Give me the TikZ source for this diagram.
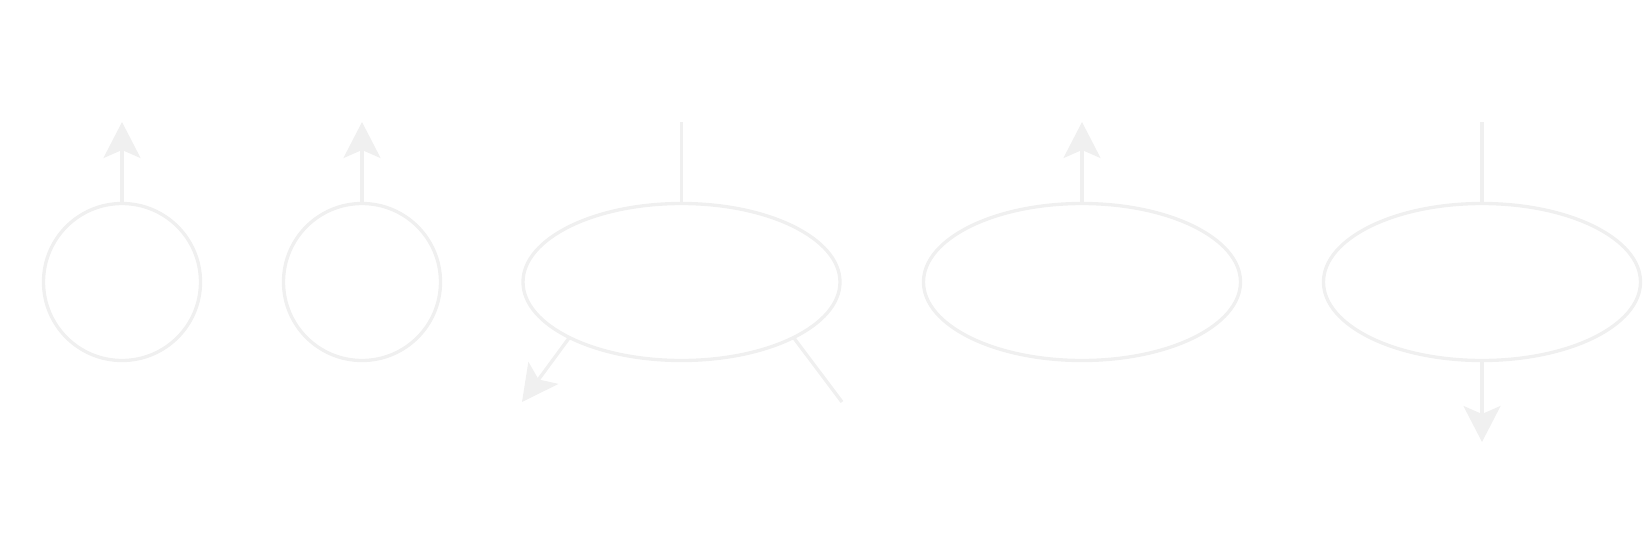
\documentclass[tikz,border=0pt]{standalone}
\usetikzlibrary{shapes.geometric, arrows.meta, calc}
\definecolor{faintgray}{RGB}{240,240,240}
\begin{document}
\begin{tikzpicture}[
  color = faintgray, line width = 0.95pt,
  ring/.style = {draw, circle, minimum size = 1.57cm, inner sep = 0pt},
  oval/.style = {draw, ellipse, minimum width = 3.17cm, minimum height = 1.57cm,
    inner sep = 0pt},
  spin/.style = {-{Stealth[length = 3.6mm, width = 3.7mm, inset = 0.8mm]}}]
\useasboundingbox (0,0) rectangle (16.44,-5.60);
%
\draw(1.22,-2.82) node[ring](ringA){};
\coordinate (ringAtop) at (1.22,-1.22);
\draw[spin] (ringA.north) -- (ringAtop);
%
\draw(3.62,-2.82) node[ring](ringB){};
\coordinate (ringBtop) at (3.62,-1.22);
\draw[spin] (ringB.north) -- (ringBtop);
%
\draw(6.815,-2.82) node[oval](ovalA){};
\coordinate (ovalAtop) at (6.815,-1.22);
\coordinate (ovalAleft) at (5.22,-4.02);
\coordinate (ovalAright) at (8.42,-4.02);
\draw (ovalA.north) -- (ovalAtop);
\draw[spin] ($(ovalA.center) + (225:1.585 and 0.785)$) -- (ovalAleft);
\draw ($(ovalA.center) + (-45:1.585 and 0.785)$) -- (ovalAright);
%
\draw(10.82,-2.82) node[oval](ovalB){};
\coordinate (ovalBtop) at (10.82,-1.22);
\draw[spin] (ovalB.north) -- (ovalBtop);
%
\draw(14.82,-2.82) node[oval](ovalC){};
\coordinate (ovalCtop) at (14.82,-1.22);
\coordinate (ovalCbottom) at (14.82,-4.42);
\draw (ovalC.north) -- (ovalCtop);
\draw[spin] (ovalC.south) -- (ovalCbottom);
\end{tikzpicture}
\end{document}
